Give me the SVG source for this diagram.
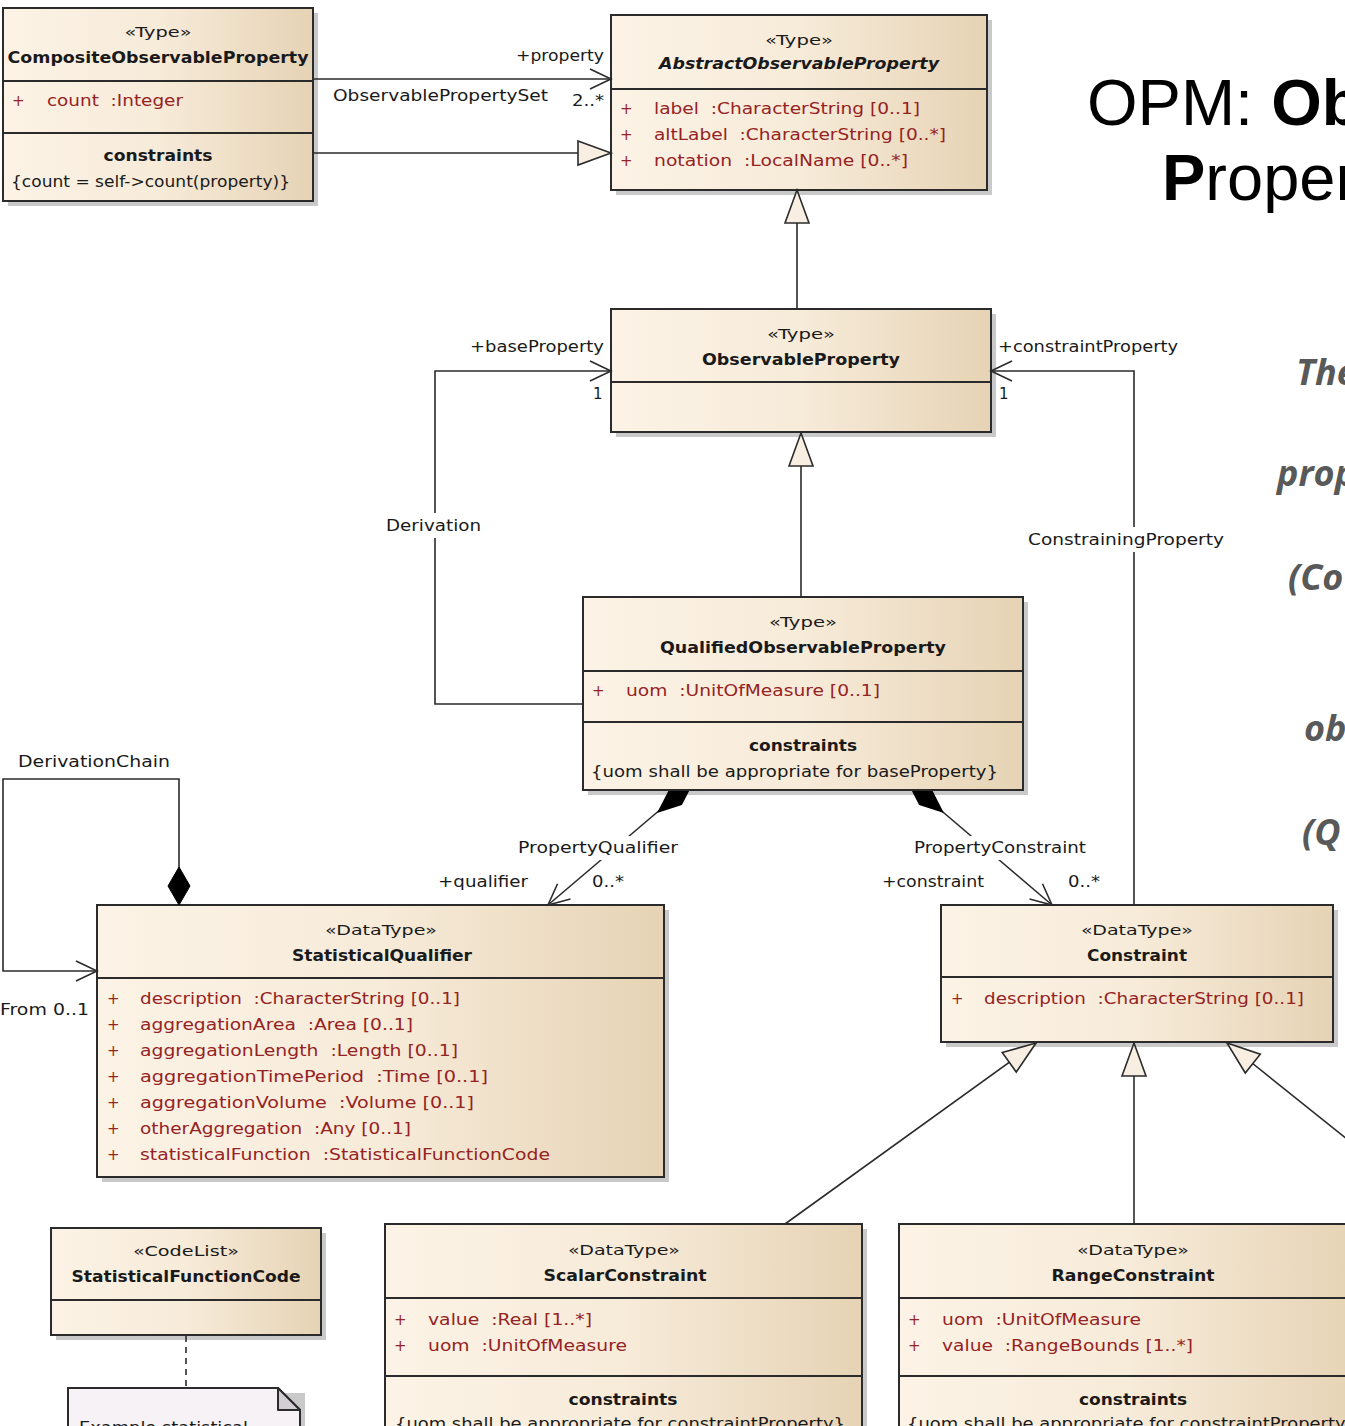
<svg xmlns="http://www.w3.org/2000/svg" width="1345" height="1426" viewBox="0 0 1345 1426">
<defs>
<linearGradient id="g" x1="0" y1="0" x2="1" y2="0">
<stop offset="0" stop-color="#fcf3e6"/>
<stop offset="0.5" stop-color="#f7ebd9"/>
<stop offset="1" stop-color="#e6d3b5"/>
</linearGradient>
<marker id="open" viewBox="-24 -14 28 28" refX="0" refY="0" markerWidth="28" markerHeight="28" markerUnits="userSpaceOnUse" orient="auto">
<path d="M-21,-10 L0,0 L-21,10" fill="none" stroke="#2b2b2b" stroke-width="1.6"/>
</marker>
<marker id="tri" viewBox="-36 -14 40 28" refX="0" refY="0" markerWidth="40" markerHeight="28" markerUnits="userSpaceOnUse" orient="auto">
<path d="M-33,-12 L0,0 L-33,12 Z" fill="#f8efe2" stroke="#2b2b2b" stroke-width="1.6"/>
</marker>
<clipPath id="belowQ"><rect x="500" y="791" width="600" height="200"/></clipPath>
</defs>
<style>
.box{fill:url(#g);stroke:#2b2b2b;stroke-width:2}
.sh{fill:#c9c9c9}
.div{stroke:#2b2b2b;stroke-width:2}
.st{font-family:"DejaVu Sans",sans-serif;font-size:14px;fill:#1a1a1a;text-anchor:middle}
.nm{font-family:"DejaVu Sans",sans-serif;font-size:16px;font-weight:bold;fill:#1a1a1a;text-anchor:middle}
.at{font-family:"DejaVu Sans",sans-serif;font-size:15px;fill:#952323}
.lb{font-family:"DejaVu Sans",sans-serif;font-size:15px;fill:#1a1a1a}
.cn{fill:none;stroke:#2b2b2b;stroke-width:1.6}
.bg{fill:#ffffff}
.big{font-family:"Liberation Sans",Arial,sans-serif;font-size:65px;fill:#000000}
.it{font-family:"Open Sans",sans-serif;font-size:36px;font-weight:bold;font-style:italic;fill:#595959}
</style>

<g id="title">
<text class="big" x="1087" y="125">OPM: <tspan font-weight="bold">Ob</tspan></text>
<text class="big" x="1162" y="200"><tspan font-weight="bold">P</tspan>roper</text>
<text class="it" x="1296" y="385">The</text>
<text class="it" x="1277" y="486">prop</text>
<text class="it" x="1288" y="590">(Co</text>
<text class="it" x="1304" y="741">ob</text>
<text class="it" x="1302" y="845">(Q</text>
</g>

<g id="CompositeObservableProperty">
<rect class="sh" x="8" y="13" width="310" height="193"/>
<rect class="box" x="3" y="8" width="310" height="193"/>
<line class="div" x1="3" y1="81" x2="313" y2="81"/>
<line class="div" x1="3" y1="133" x2="313" y2="133"/>
<text class="st" x="158" y="37" textLength="67" lengthAdjust="spacingAndGlyphs">«Type»</text>
<text class="nm" x="158" y="63" textLength="301" lengthAdjust="spacingAndGlyphs">CompositeObservableProperty</text>
<text class="at" x="12" y="106">+</text>
<text class="at" x="47" y="106" xml:space="preserve" textLength="136" lengthAdjust="spacingAndGlyphs">count  :Integer</text>
<text class="nm" x="158" y="161" textLength="109" lengthAdjust="spacingAndGlyphs">constraints</text>
<text class="lb" x="11" y="187" textLength="279" lengthAdjust="spacingAndGlyphs">{count = self-&gt;count(property)}</text>
</g>

<g id="AbstractObservableProperty">
<rect class="sh" x="616" y="20" width="376" height="175"/>
<rect class="box" x="611" y="15" width="376" height="175"/>
<line class="div" x1="611" y1="89" x2="987" y2="89"/>
<text class="st" x="799" y="45" textLength="68" lengthAdjust="spacingAndGlyphs">«Type»</text>
<text class="nm" x="799" y="69" font-style="italic" textLength="280" lengthAdjust="spacingAndGlyphs">AbstractObservableProperty</text>
<text class="at" x="620" y="114">+</text>
<text class="at" x="654" y="114" xml:space="preserve" textLength="266" lengthAdjust="spacingAndGlyphs">label  :CharacterString [0..1]</text>
<text class="at" x="620" y="140">+</text>
<text class="at" x="654" y="140" xml:space="preserve" textLength="292" lengthAdjust="spacingAndGlyphs">altLabel  :CharacterString [0..*]</text>
<text class="at" x="620" y="166">+</text>
<text class="at" x="654" y="166" xml:space="preserve" textLength="254" lengthAdjust="spacingAndGlyphs">notation  :LocalName [0..*]</text>
</g>

<g id="ObservableProperty">
<rect class="sh" x="616" y="314" width="380" height="123"/>
<rect class="box" x="611" y="309" width="380" height="123"/>
<line class="div" x1="611" y1="382" x2="991" y2="382"/>
<text class="st" x="801" y="339" textLength="68" lengthAdjust="spacingAndGlyphs">«Type»</text>
<text class="nm" x="801" y="365" textLength="198" lengthAdjust="spacingAndGlyphs">ObservableProperty</text>
</g>

<g id="QualifiedObservableProperty">
<rect class="sh" x="588" y="602" width="440" height="193"/>
<rect class="box" x="583" y="597" width="440" height="193"/>
<line class="div" x1="583" y1="671" x2="1023" y2="671"/>
<line class="div" x1="583" y1="722" x2="1023" y2="722"/>
<text class="st" x="803" y="627" textLength="68" lengthAdjust="spacingAndGlyphs">«Type»</text>
<text class="nm" x="803" y="653" textLength="286" lengthAdjust="spacingAndGlyphs">QualifiedObservableProperty</text>
<text class="at" x="592" y="696">+</text>
<text class="at" x="626" y="696" xml:space="preserve" textLength="254" lengthAdjust="spacingAndGlyphs">uom  :UnitOfMeasure [0..1]</text>
<text class="nm" x="803" y="751" textLength="108" lengthAdjust="spacingAndGlyphs">constraints</text>
<text class="lb" x="591" y="777" textLength="407" lengthAdjust="spacingAndGlyphs">{uom shall be appropriate for baseProperty}</text>
</g>

<g id="StatisticalQualifier">
<rect class="sh" x="102" y="910" width="567" height="272"/>
<rect class="box" x="97" y="905" width="567" height="272"/>
<line class="div" x1="97" y1="978" x2="664" y2="978"/>
<text class="st" x="381" y="935" textLength="112" lengthAdjust="spacingAndGlyphs">«DataType»</text>
<text class="nm" x="382" y="961" textLength="180" lengthAdjust="spacingAndGlyphs">StatisticalQualifier</text>
<text class="at" x="107" y="1004">+</text>
<text class="at" x="140" y="1004" xml:space="preserve" textLength="320" lengthAdjust="spacingAndGlyphs">description  :CharacterString [0..1]</text>
<text class="at" x="107" y="1030">+</text>
<text class="at" x="140" y="1030" xml:space="preserve" textLength="273" lengthAdjust="spacingAndGlyphs">aggregationArea  :Area [0..1]</text>
<text class="at" x="107" y="1056">+</text>
<text class="at" x="140" y="1056" xml:space="preserve" textLength="318" lengthAdjust="spacingAndGlyphs">aggregationLength  :Length [0..1]</text>
<text class="at" x="107" y="1082">+</text>
<text class="at" x="140" y="1082" xml:space="preserve" textLength="348" lengthAdjust="spacingAndGlyphs">aggregationTimePeriod  :Time [0..1]</text>
<text class="at" x="107" y="1108">+</text>
<text class="at" x="140" y="1108" xml:space="preserve" textLength="334" lengthAdjust="spacingAndGlyphs">aggregationVolume  :Volume [0..1]</text>
<text class="at" x="107" y="1134">+</text>
<text class="at" x="140" y="1134" xml:space="preserve" textLength="271" lengthAdjust="spacingAndGlyphs">otherAggregation  :Any [0..1]</text>
<text class="at" x="107" y="1160">+</text>
<text class="at" x="140" y="1160" xml:space="preserve" textLength="410" lengthAdjust="spacingAndGlyphs">statisticalFunction  :StatisticalFunctionCode</text>
</g>

<g id="Constraint">
<rect class="sh" x="946" y="910" width="392" height="137"/>
<rect class="box" x="941" y="905" width="392" height="137"/>
<line class="div" x1="941" y1="977" x2="1333" y2="977"/>
<text class="st" x="1137" y="935" textLength="112" lengthAdjust="spacingAndGlyphs">«DataType»</text>
<text class="nm" x="1137" y="961" textLength="100" lengthAdjust="spacingAndGlyphs">Constraint</text>
<text class="at" x="951" y="1004">+</text>
<text class="at" x="984" y="1004" xml:space="preserve" textLength="320" lengthAdjust="spacingAndGlyphs">description  :CharacterString [0..1]</text>
</g>

<g id="StatisticalFunctionCode">
<rect class="sh" x="56" y="1233" width="270" height="107"/>
<rect class="box" x="51" y="1228" width="270" height="107"/>
<line class="div" x1="51" y1="1300" x2="321" y2="1300"/>
<text class="st" x="186" y="1256" textLength="106" lengthAdjust="spacingAndGlyphs">«CodeList»</text>
<text class="nm" x="186" y="1282" textLength="229" lengthAdjust="spacingAndGlyphs">StatisticalFunctionCode</text>
</g>

<g id="Note">
<path d="M73,1393 H305 V1440 H73 Z" fill="#c9c9c9"/>
<path d="M68,1388 H278 L300,1410 V1440 H68 Z" fill="#f6f2f6" stroke="#2b2b2b" stroke-width="2"/>
<path d="M278,1388 V1410 H300 Z" fill="#d2ced4" stroke="#2b2b2b" stroke-width="2" stroke-linejoin="round"/>
<text class="lb" x="79" y="1433" textLength="169" lengthAdjust="spacingAndGlyphs">Example statistical</text>
</g>

<g id="ScalarConstraint">
<rect class="sh" x="390" y="1229" width="477" height="230"/>
<rect class="box" x="385" y="1224" width="477" height="230"/>
<line class="div" x1="385" y1="1298" x2="862" y2="1298"/>
<line class="div" x1="385" y1="1376" x2="862" y2="1376"/>
<text class="st" x="624" y="1255" textLength="112" lengthAdjust="spacingAndGlyphs">«DataType»</text>
<text class="nm" x="625" y="1281" textLength="163" lengthAdjust="spacingAndGlyphs">ScalarConstraint</text>
<text class="at" x="394" y="1325">+</text>
<text class="at" x="428" y="1325" xml:space="preserve" textLength="164" lengthAdjust="spacingAndGlyphs">value  :Real [1..*]</text>
<text class="at" x="394" y="1351">+</text>
<text class="at" x="428" y="1351" xml:space="preserve" textLength="199" lengthAdjust="spacingAndGlyphs">uom  :UnitOfMeasure</text>
<text class="nm" x="623" y="1405" textLength="109" lengthAdjust="spacingAndGlyphs">constraints</text>
<text class="lb" x="395" y="1429" textLength="450" lengthAdjust="spacingAndGlyphs">{uom shall be appropriate for constraintProperty}</text>
</g>

<g id="RangeConstraint">
<rect class="sh" x="904" y="1229" width="460" height="230"/>
<rect class="box" x="899" y="1224" width="460" height="230"/>
<line class="div" x1="899" y1="1298" x2="1359" y2="1298"/>
<line class="div" x1="899" y1="1376" x2="1359" y2="1376"/>
<text class="st" x="1133" y="1255" textLength="112" lengthAdjust="spacingAndGlyphs">«DataType»</text>
<text class="nm" x="1133" y="1281" textLength="163" lengthAdjust="spacingAndGlyphs">RangeConstraint</text>
<text class="at" x="908" y="1325">+</text>
<text class="at" x="942" y="1325" xml:space="preserve" textLength="199" lengthAdjust="spacingAndGlyphs">uom  :UnitOfMeasure</text>
<text class="at" x="908" y="1351">+</text>
<text class="at" x="942" y="1351" xml:space="preserve" textLength="251" lengthAdjust="spacingAndGlyphs">value  :RangeBounds [1..*]</text>
<text class="nm" x="1133" y="1405" textLength="108" lengthAdjust="spacingAndGlyphs">constraints</text>
<text class="lb" x="907" y="1429" textLength="450" lengthAdjust="spacingAndGlyphs">{uom shall be appropriate for constraintProperty}</text>
</g>

<g id="connectors">
<!-- ObservablePropertySet -->
<line class="cn" x1="313" y1="79" x2="611" y2="79" marker-end="url(#open)"/>
<text class="lb" x="516" y="61" textLength="88" lengthAdjust="spacingAndGlyphs">+property</text>
<text class="lb" x="333" y="101" textLength="215" lengthAdjust="spacingAndGlyphs">ObservablePropertySet</text>
<text class="lb" x="572" y="106" textLength="32" lengthAdjust="spacingAndGlyphs">2..*</text>
<!-- generalizations -->
<line class="cn" x1="313" y1="153" x2="611" y2="153" marker-end="url(#tri)"/>
<line class="cn" x1="797" y1="309" x2="797" y2="190" marker-end="url(#tri)"/>
<line class="cn" x1="801" y1="597" x2="801" y2="433" marker-end="url(#tri)"/>
<line class="cn" x1="785" y1="1224" x2="1036" y2="1043" marker-end="url(#tri)"/>
<line class="cn" x1="1134" y1="1224" x2="1134" y2="1043" marker-end="url(#tri)"/>
<line class="cn" x1="1362" y1="1151" x2="1227" y2="1043" marker-end="url(#tri)"/>
<!-- Derivation -->
<polyline class="cn" points="583,704 435,704 435,371 611,371" marker-end="url(#open)"/>
<rect class="bg" x="384" y="513" width="100" height="25"/>
<text class="lb" x="386" y="531" textLength="95" lengthAdjust="spacingAndGlyphs">Derivation</text>
<text class="lb" x="470" y="352" textLength="134" lengthAdjust="spacingAndGlyphs">+baseProperty</text>
<text class="lb" x="593" y="399" fill="#4a1a1a">1</text>
<!-- ConstrainingProperty -->
<polyline class="cn" points="1134,905 1134,371 991,371" marker-end="url(#open)"/>
<rect class="bg" x="1026" y="527" width="200" height="25"/>
<text class="lb" x="1028" y="545" textLength="196" lengthAdjust="spacingAndGlyphs">ConstrainingProperty</text>
<text class="lb" x="998" y="352" textLength="180" lengthAdjust="spacingAndGlyphs">+constraintProperty</text>
<text class="lb" x="999" y="399" fill="#4a1a1a">1</text>
<!-- DerivationChain -->
<polyline class="cn" points="179,868 179,779 3,779 3,971 97,971" marker-end="url(#open)"/>
<polygon points="179,867 190,886 179,905 168,886" fill="#000000" stroke="#000000" stroke-width="1"/>
<text class="lb" x="18" y="767" textLength="152" lengthAdjust="spacingAndGlyphs">DerivationChain</text>
<text class="lb" x="0" y="1015" textLength="89" lengthAdjust="spacingAndGlyphs">From 0..1</text>
<!-- PropertyQualifier -->
<line class="cn" x1="668" y1="803" x2="548" y2="905" marker-end="url(#open)"/>
<polygon clip-path="url(#belowQ)" points="693.7,782 681.9,805.1 657,812.9 668.9,789.9" fill="#000000"/>
<rect class="bg" x="516" y="836" width="164" height="24"/>
<text class="lb" x="518" y="853" textLength="160" lengthAdjust="spacingAndGlyphs">PropertyQualifier</text>
<text class="lb" x="438" y="887" textLength="90" lengthAdjust="spacingAndGlyphs">+qualifier</text>
<text class="lb" x="592" y="887" textLength="32" lengthAdjust="spacingAndGlyphs">0..*</text>
<!-- PropertyConstraint -->
<line class="cn" x1="930" y1="801" x2="1052" y2="905" marker-end="url(#open)"/>
<polygon clip-path="url(#belowQ)" points="907.3,781.9 932.1,789.9 943.9,813 919.1,805.1" fill="#000000"/>
<rect class="bg" x="912" y="836" width="176" height="24"/>
<text class="lb" x="914" y="853" textLength="172" lengthAdjust="spacingAndGlyphs">PropertyConstraint</text>
<text class="lb" x="882" y="887" textLength="102" lengthAdjust="spacingAndGlyphs">+constraint</text>
<text class="lb" x="1068" y="887" textLength="32" lengthAdjust="spacingAndGlyphs">0..*</text>
<!-- note link -->
<line x1="186" y1="1336" x2="186" y2="1388" stroke="#2b2b2b" stroke-width="1.6" stroke-dasharray="6,5"/>
</g>
</svg>
